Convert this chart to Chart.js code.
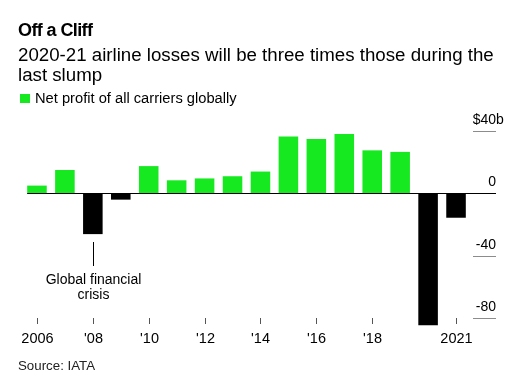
<!DOCTYPE html>
<html lang="en">
    <head>
        <meta charset="UTF-8" />
        <title>Off a Cliff</title>
        <script src="https://cdn.jsdelivr.net/npm/chart.js"></script>
        <style>
            body { margin: 0; background: #fff; }
        </style>
    </head>
    <body>
        <canvas id="myChart" width="521" height="379"></canvas>

        <script>
            // Data: airline net profit, $ billions (IATA)
            const years = [2006, 2007, 2008, 2009, 2010, 2011, 2012, 2013, 2014, 2015, 2016, 2017, 2018, 2019, 2020, 2021];
            const profits = [5.0, 15.0, -26.1, -4.0, 17.5, 8.4, 9.6, 11.0, 14.0, 36.5, 34.8, 38.0, 27.6, 26.6, -84.5, -15.6];

            const xTickYears = [2006, 2008, 2010, 2012, 2014, 2016, 2018, 2021];
            const xTickLabels = ["2006", "'08", "'10", "'12", "'14", "'16", "'18", "2021"];
            const yTicks = [40, 0, -40, -80];
            const yTickLabels = ["$40", "0", "-40", "-80"];

            const FONT = "'Liberation Sans', Arial, sans-serif";
            const GREEN = "#16e920";

            // draws titles, axes and annotation around the bars
            const decorations = {
                id: "decorations",
                afterDatasetsDraw(chart) {
                    const ctx = chart.ctx;
                    const x = chart.scales.x;
                    const y = chart.scales.y;
                    const bars = chart.getDatasetMeta(0).data;
                    ctx.save();

                    // headline
                    ctx.fillStyle = "#000";
                    ctx.textAlign = "left";
                    ctx.textBaseline = "alphabetic";
                    ctx.font = "bold 18px " + FONT;
                    ctx.letterSpacing = "-0.6px";
                    ctx.fillText("Off a Cliff", 18, 36);
                    ctx.letterSpacing = "0px";
                    ctx.font = "18.7px " + FONT;
                    ctx.fillText("2020-21 airline losses will be three times those during the", 18, 61);
                    ctx.fillText("last slump", 18, 81);

                    // legend
                    ctx.fillStyle = GREEN;
                    ctx.fillRect(20, 94, 10, 9);
                    ctx.fillStyle = "#000";
                    ctx.font = "14.7px " + FONT;
                    ctx.fillText("Net profit of all carriers globally", 35, 103);

                    // right axis: short grey rules with labels above
                    const axL = 473, axR = 496;
                    yTicks.forEach((v, i) => {
                        const py = Math.round(y.getPixelForValue(v)) + 0.5;
                        if (v !== 0) {
                            ctx.strokeStyle = "#8c8c8c";
                            ctx.lineWidth = 1;
                            ctx.beginPath();
                            ctx.moveTo(axL, py);
                            ctx.lineTo(axR, py);
                            ctx.stroke();
                        }
                        ctx.fillStyle = "#000";
                        ctx.font = "14px " + FONT;
                        ctx.textAlign = "right";
                        ctx.fillText(yTickLabels[i], axR, py - 8);
                        if (i === 0) {
                            ctx.textAlign = "left";
                            ctx.fillText("b", axR, py - 8);
                        }
                    });

                    // zero line
                    const first = bars[0];
                    const zy = Math.round(y.getPixelForValue(0)) + 0.5;
                    ctx.strokeStyle = "#000";
                    ctx.lineWidth = 1;
                    ctx.beginPath();
                    ctx.moveTo(first.x - first.width / 2, zy);
                    ctx.lineTo(axR, zy);
                    ctx.stroke();

                    // bottom ticks and labels
                    ctx.strokeStyle = "#555";
                    ctx.textAlign = "center";
                    ctx.font = "14.5px " + FONT;
                    xTickYears.forEach((yr, i) => {
                        const px = Math.round(x.getPixelForValue(years.indexOf(yr))) + 0.5;
                        ctx.beginPath();
                        ctx.moveTo(px, 318);
                        ctx.lineTo(px, 324);
                        ctx.stroke();
                        ctx.fillText(xTickLabels[i], px, 343);
                    });

                    // annotation for 2008
                    const ax = Math.round(x.getPixelForValue(years.indexOf(2008))) + 0.5;
                    ctx.strokeStyle = "#000";
                    ctx.font = "14px " + FONT;
                    ctx.beginPath();
                    ctx.moveTo(ax, 242);
                    ctx.lineTo(ax, 266);
                    ctx.stroke();
                    ctx.fillText("Global financial", ax, 284);
                    ctx.fillText("crisis", ax, 299);

                    // source
                    ctx.textAlign = "left";
                    ctx.font = "13.3px " + FONT;
                    ctx.fillStyle = "#222";
                    ctx.fillText("Source: IATA", 18, 370);

                    ctx.restore();
                },
            };

            var ctx = document.getElementById("myChart").getContext("2d");
            var myChart = new Chart(ctx, {
                type: "bar",
                data: {
                    labels: years,
                    datasets: [
                        {
                            label: "Net profit of all carriers globally",
                            data: profits,
                            backgroundColor: (c) => (c.raw >= 0 ? GREEN : "#000"),
                            borderWidth: 0,
                            categoryPercentage: 1,
                            barPercentage: 0.7,
                        },
                    ],
                },
                options: {
                    responsive: false,
                    animation: false,
                    layout: {
                        padding: { left: 23, right: 51, top: 131, bottom: 53 },
                    },
                    scales: {
                        x: { display: false },
                        y: { display: false, min: -85, max: 40 },
                    },
                    plugins: {
                        legend: { display: false },
                        tooltip: { enabled: false },
                    },
                },
                plugins: [decorations],
            });
        </script>
    </body>
</html>
